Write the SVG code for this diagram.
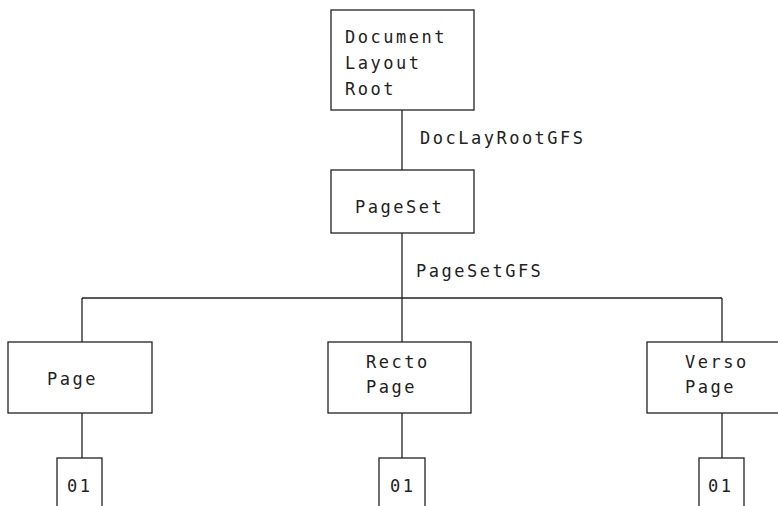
<svg xmlns="http://www.w3.org/2000/svg" width="778" height="506" viewBox="0 0 778 506">
<style>
rect{fill:#fff;stroke:#222;stroke-width:1.3}
line{stroke:#222;stroke-width:1.3}
text{font-family:"DejaVu Sans Mono","Liberation Mono",monospace;font-size:17px;letter-spacing:2.5px;fill:#222}
</style>
<rect width="778" height="506" style="stroke:none"/>
<g id="connectors">
<line x1="402" y1="110" x2="402" y2="170"/>
<line x1="402" y1="233" x2="402" y2="298"/>
<line x1="82" y1="298" x2="722" y2="298"/>
<line x1="82" y1="298" x2="82" y2="342"/>
<line x1="402" y1="298" x2="402" y2="342"/>
<line x1="722" y1="298" x2="722" y2="342"/>
<line x1="82" y1="413" x2="82" y2="458"/>
<line x1="402" y1="413" x2="402" y2="458"/>
<line x1="722" y1="413" x2="722" y2="458"/>
<text x="420" y="144">DocLayRootGFS</text>
<text x="416" y="277">PageSetGFS</text>
</g>
<g id="root"><rect x="331" y="10" width="143" height="100"/>
<text x="345" y="43">Document</text><text x="345" y="69">Layout</text><text x="345" y="95">Root</text></g>
<g id="pageset"><rect x="331" y="170" width="143" height="63"/><text x="355" y="213">PageSet</text></g>
<g id="page"><rect x="8" y="342" width="144" height="71"/><text x="47" y="385">Page</text></g>
<g id="recto"><rect x="328" y="342" width="143" height="71"/><text x="366" y="368">Recto</text><text x="366" y="393">Page</text></g>
<g id="verso"><rect x="647" y="342" width="150" height="71"/><text x="685" y="368">Verso</text><text x="685" y="393">Page</text></g>
<g id="page01"><rect x="57" y="458" width="45" height="60"/><text x="67" y="492">01</text></g>
<g id="recto01"><rect x="379" y="458" width="46" height="60"/><text x="390" y="492">01</text></g>
<g id="verso01"><rect x="699" y="458" width="45" height="60"/><text x="708" y="492">01</text></g>
</svg>
